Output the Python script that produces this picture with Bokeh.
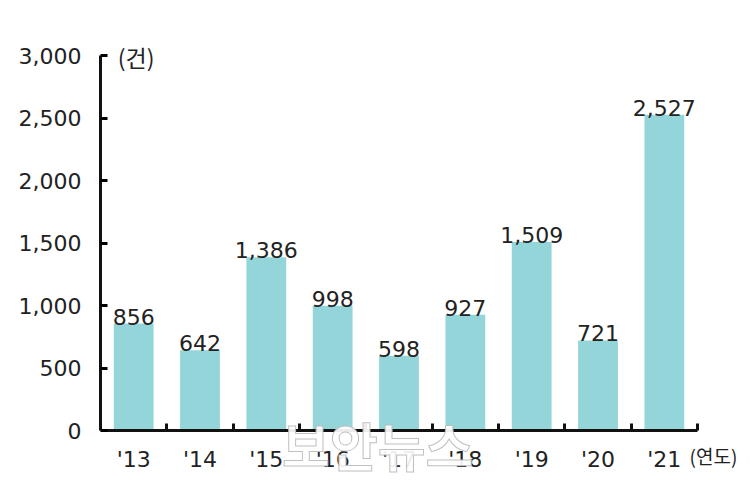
from bokeh.plotting import figure
from bokeh.models import FixedTicker, Label, ColumnDataSource, Range1d
from bokeh.core.properties import value
from bokeh.embed import file_html
from bokeh.resources import INLINE

years = ["'13", "'14", "'15", "'16", "'17", "'18", "'19", "'20", "'21"]
counts = [856, 642, 1386, 998, 598, 927, 1509, 721, 2527]
y_ticks = [0, 500, 1000, 1500, 2000, 2500, 3000]
unit_label = "(건)"
x_unit_label = "(연도)"
watermark = "보안뉴스"

n = len(years)
xs = [i + 0.5 for i in range(n)]
labels = [f"{c:,}" for c in counts]
src = ColumnDataSource(dict(x=xs, top=counts, label=labels))

FONT = "DejaVu Sans"
W, H = 742, 481
p = figure(width=W, height=H, output_backend="svg", toolbar_location=None,
           x_range=Range1d(0, 9.648), y_range=Range1d(-408, 3240),
           min_border_left=100, min_border_right=2, min_border_top=25, min_border_bottom=0)
p.outline_line_color = None
p.grid.grid_line_color = None
p.background_fill_color = "white"
p.border_fill_color = "white"

p.vbar(x="x", top="top", width=0.6, source=src, color="#93D5D9", line_color=None)
p.text(x="x", y="top", text="label", source=src, text_align="center", text_baseline="bottom",
       text_font=value(FONT), text_font_size="22px", text_color="#222222", y_offset=1)

# y axis
ya = p.yaxis[0]
ya.ticker = FixedTicker(ticks=y_ticks)
ya.bounds = (0, 3000)
ya.major_label_overrides = {t: f"{t:,}" for t in y_ticks}
ya.axis_line_width = 3
ya.axis_line_color = "#111111"
ya.major_tick_in = 7
ya.major_tick_out = 0
ya.major_tick_line_width = 3
ya.minor_tick_line_color = None
ya.major_label_standoff = 19
ya.major_label_text_font = FONT
ya.major_label_text_font_size = "22px"
ya.major_label_text_color = "#222222"

# x axis
xa = p.xaxis[0]
xa.fixed_location = 0
xa.bounds = (0, n)
xa.ticker = FixedTicker(ticks=xs, minor_ticks=list(range(1, n + 1)))
xa.major_label_overrides = {x: y for x, y in zip(xs, years)}
xa.axis_line_width = 3
xa.axis_line_color = "#111111"
xa.major_tick_line_color = None
xa.major_tick_in = 0
xa.major_tick_out = 0
xa.minor_tick_in = 7
xa.minor_tick_out = 0
xa.minor_tick_line_width = 3
xa.minor_tick_line_color = "#111111"
xa.major_label_standoff = 16
xa.major_label_text_font = FONT
xa.major_label_text_font_size = "22px"
xa.major_label_text_color = "#222222"

p.add_layout(Label(x=0.26, y=2990, text=unit_label, text_baseline="middle",
                   text_font="Noto Sans CJK KR", text_font_size="23px", text_color="#222222"))
p.add_layout(Label(x=8.88, y=-200, text=x_unit_label, text_baseline="middle",
                   text_font="Noto Sans CJK KR", text_font_size="19px", text_color="#222222"))
p.add_layout(Label(x=4.18, y=-112, text=watermark, text_align="center", text_baseline="middle",
                   text_font="Noto Sans CJK KR", text_font_style="bold", text_font_size="52px",
                   text_color="white", text_alpha=0.92, text_outline_color="#bbbbbb"))

open("out.html", "w").write(file_html(p, INLINE))
